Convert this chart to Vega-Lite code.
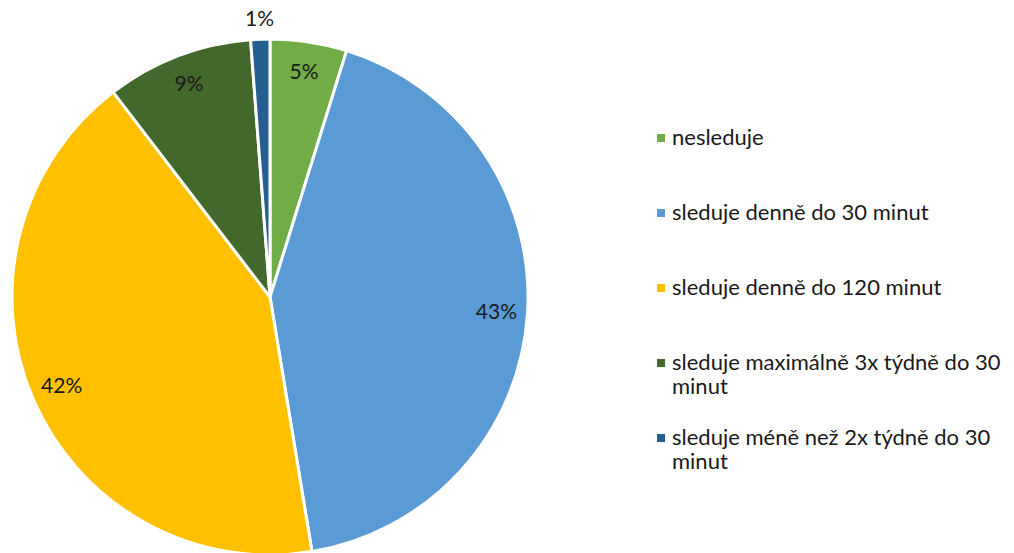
{
  "$schema": "https://vega.github.io/schema/vega-lite/v6.json",
  "width": 540,
  "height": 594,
  "padding": 0,
  "background": "white",
  "config": {"view": {"stroke": null}},
  "data": {
    "values": [
      {"k": "nesleduje", "v": 4.8, "label": "5%", "i": 1},
      {"k": "sleduje denně do 30 minut", "v": 42.6, "label": "43%", "i": 2},
      {"k": "sleduje denně do 120 minut", "v": 42.2, "label": "42%", "i": 3},
      {"k": "sleduje maximálně 3x týdně do 30 minut", "v": 9.2, "label": "9%", "i": 4},
      {"k": "sleduje méně než 2x týdně do 30 minut", "v": 1.2, "label": "1%", "i": 5}
    ]
  },
  "layer": [
    {
      "mark": {"type": "arc", "outerRadius": 258, "stroke": "white", "strokeWidth": 3},
      "encoding": {
        "theta": {"field": "v", "type": "quantitative", "stack": true},
        "order": {"field": "i", "type": "quantitative"},
        "color": {
          "field": "k",
          "type": "nominal",
          "sort": ["nesleduje", "sleduje denně do 30 minut", "sleduje denně do 120 minut", "sleduje maximálně 3x týdně do 30 minut", "sleduje méně než 2x týdně do 30 minut"],
          "scale": {
            "domain": ["nesleduje", "sleduje denně do 30 minut", "sleduje denně do 120 minut", "sleduje maximálně 3x týdně do 30 minut", "sleduje méně než 2x týdně do 30 minut"],
            "range": ["#70AD47", "#5B9BD5", "#FFC000", "#43682B", "#255E91"]
          },
          "legend": {
            "title": null,
            "orient": "none",
            "legendX": 650,
            "legendY": 127,
            "symbolType": "square",
            "symbolSize": 64,
            "symbolStrokeWidth": 0,
            "labelFont": "Lato",
            "labelFontSize": 22,
            "labelColor": "#1a1a1a",
            "labelLimit": 400,
            "labelOffset": 0,
            "labelBaseline": "middle",
            "gridAlign": "all",
            "rowPadding": 29,
            "labelExpr": "length(datum.label) > 30 ? [slice(datum.label, 0, -6), 'minut'] : datum.label",
            "encode": {"labels": {"update": {"dy": {"signal": "length(datum.value) > 30 ? 12 : 0"}, "lineHeight": {"value": 25}}}}
          }
        }
      }
    },
    {
      "mark": {"type": "text", "font": "Lato", "fontSize": 21, "color": "#1a1a1a", "radius": 227},
      "encoding": {
        "theta": {"field": "v", "type": "quantitative", "stack": true},
        "order": {"field": "i", "type": "quantitative"},
        "text": {"condition": {"test": "datum.v < 2", "value": ""}, "field": "label", "type": "nominal"}
      }
    },
    {
      "mark": {"type": "text", "font": "Lato", "fontSize": 21, "color": "#1a1a1a", "radius": 277},
      "encoding": {
        "theta": {"field": "v", "type": "quantitative", "stack": true},
        "order": {"field": "i", "type": "quantitative"},
        "text": {"condition": {"test": "datum.v >= 2", "value": ""}, "field": "label", "type": "nominal"}
      }
    }
  ]
}
